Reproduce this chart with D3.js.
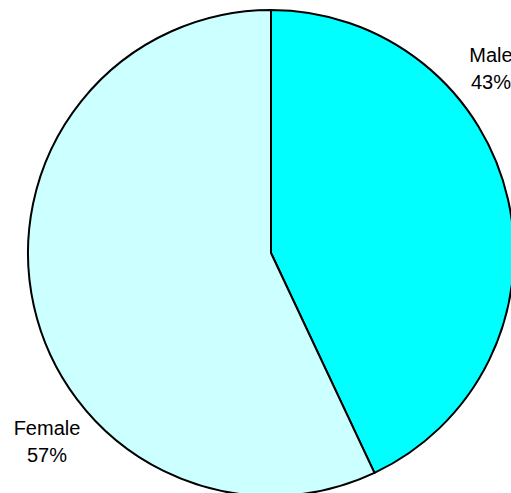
<!DOCTYPE html>
<html>
<head>
<meta charset="utf-8">
<script src="https://cdn.jsdelivr.net/npm/d3@7"></script>
<style>
  body { margin: 0; background: #fff; }
  text { font-family: "Liberation Sans", Arial, sans-serif; font-size: 20px; fill: #000; }
</style>
</head>
<body>
<script>
// slice data
var labels = ["Male", "Female"];
var values = [43, 57];
var colors = ["#00ffff", "#ccffff"];

var width = 511, height = 493;
var cx = 271, cy = 253, r = 243;

var svg = d3.select("body").append("svg")
  .attr("width", width).attr("height", height);

var pie = d3.pie().sort(null).value(function(d) { return d; });
var arc = d3.arc().innerRadius(0).outerRadius(r);

var arcs = pie(values);

var g = svg.append("g").attr("transform", "translate(" + cx + "," + cy + ")");

g.selectAll("path")
  .data(arcs)
  .enter()
  .append("path")
  .attr("d", arc)
  .attr("fill", function(d, i) { return colors[i]; })
  .attr("stroke", "#000")
  .attr("stroke-width", 2)
  .attr("stroke-linejoin", "round");

// label spots, picked by eye
var labelPos = [[491, 62], [47, 435]];
var total = d3.sum(values);

labels.forEach(function(name, i) {
  var t = svg.append("text")
    .attr("text-anchor", "middle")
    .attr("x", labelPos[i][0])
    .attr("y", labelPos[i][1]);
  t.append("tspan").attr("x", labelPos[i][0]).text(name);
  t.append("tspan").attr("x", labelPos[i][0]).attr("dy", 27)
    .text(Math.round(values[i] / total * 100) + "%");
});
</script>
</body>
</html>
